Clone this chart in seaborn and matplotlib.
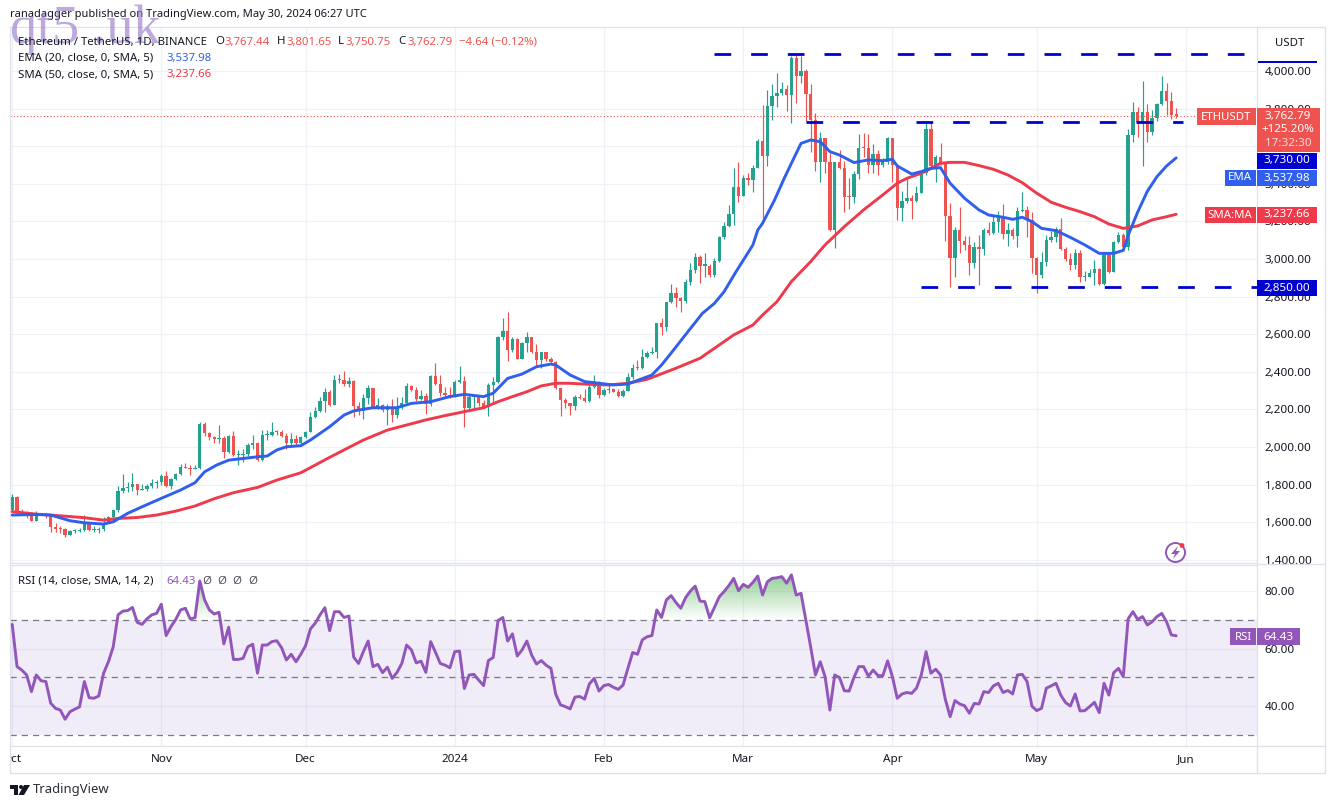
import numpy as np
import pandas as pd
import matplotlib
matplotlib.use("Agg")
import matplotlib.pyplot as plt
import seaborn as sns
from matplotlib.colors import LinearSegmentedColormap
from matplotlib.lines import Line2D
from matplotlib.patches import Circle, Polygon, Rectangle
from matplotlib.path import Path
from matplotlib.transforms import Bbox

sns.set_theme(style="white")
plt.rcParams["font.family"] = ["Noto Sans", "DejaVu Sans"]

# ==============================
# DATA (one row per day from 1 Oct 2023)
# ==============================
first_open = 1665
closes = [
    1735, 1656, 1650, 1643, 1608, 1641, 1642, 1638, 1576, 1565,
    1563, 1532, 1554, 1554, 1558, 1602, 1558, 1560, 1562, 1597,
    1629, 1663, 1766, 1782, 1789, 1803, 1771, 1774, 1794, 1806,
    1815, 1845, 1792, 1828, 1856, 1891, 1889, 1881, 1886, 2125,
    2072, 2051, 2040, 2050, 1975, 2058, 1957, 1958, 1962, 2010,
    2019, 1930, 2063, 2063, 2081, 2081, 2060, 2019, 2045, 2019,
    2052, 2082, 2161, 2192, 2245, 2291, 2224, 2356, 2356, 2335,
    2353, 2218, 2193, 2259, 2316, 2209, 2225, 2197, 2215, 2170,
    2215, 2236, 2325, 2303, 2254, 2271, 2229, 2378, 2335, 2289,
    2277, 2268, 2348, 2351, 2206, 2268, 2268, 2232, 2211, 2330,
    2347, 2587, 2617, 2516, 2575, 2468, 2551, 2587, 2507, 2463,
    2504, 2466, 2450, 2312, 2250, 2234, 2217, 2268, 2262, 2245,
    2318, 2339, 2277, 2303, 2307, 2295, 2272, 2300, 2370, 2422,
    2419, 2480, 2498, 2503, 2658, 2637, 2773, 2817, 2795, 2779,
    2880, 2942, 3012, 2965, 2965, 2915, 2991, 3115, 3175, 3240,
    3385, 3337, 3429, 3420, 3486, 3628, 3550, 3816, 3867, 3881,
    3902, 3872, 4067, 3975, 4000, 3876, 3739, 3518, 3642, 3518,
    3156, 3518, 3486, 3332, 3331, 3452, 3589, 3588, 3500, 3557,
    3500, 3518, 3642, 3500, 3273, 3309, 3326, 3310, 3350, 3456,
    3692, 3495, 3545, 3509, 3231, 3004, 3154, 3098, 3075, 2981,
    3066, 3052, 3154, 3140, 3195, 3220, 3133, 3155, 3123, 3256,
    3261, 3208, 3007, 2915, 2986, 3101, 3115, 3158, 3052, 2999,
    2968, 3034, 2903, 2906, 2928, 2945, 2867, 3027, 2933, 3089,
    3128, 3066, 3660, 3784, 3730, 3784, 3677, 3748, 3824, 3893,
    3840, 3767.44, 3762.79,
]
highs = [
    1750, 1739, 1668, 1659, 1652, 1659, 1647, 1647, 1638, 1594,
    1579, 1571, 1558, 1562, 1567, 1636, 1602, 1581, 1576, 1626,
    1633, 1665, 1794, 1856, 1815, 1863, 1801, 1803, 1803, 1828,
    1824, 1856, 1872, 1833, 1863, 1909, 1913, 1904, 1904, 2131,
    2134, 2081, 2058, 2117, 2058, 2063, 2086, 1984, 1992, 2019,
    2063, 2028, 2090, 2090, 2131, 2090, 2090, 2072, 2072, 2063,
    2060, 2087, 2188, 2215, 2268, 2312, 2303, 2381, 2388, 2404,
    2371, 2356, 2239, 2280, 2330, 2316, 2259, 2229, 2229, 2254,
    2268, 2264, 2342, 2330, 2321, 2303, 2286, 2383, 2445, 2383,
    2317, 2317, 2356, 2431, 2378, 2277, 2271, 2277, 2250, 2339,
    2371, 2590, 2684, 2716, 2583, 2578, 2560, 2610, 2587, 2546,
    2504, 2486, 2477, 2458, 2312, 2262, 2236, 2277, 2280, 2307,
    2330, 2383, 2351, 2312, 2330, 2316, 2307, 2307, 2395, 2442,
    2463, 2520, 2510, 2534, 2662, 2684, 2773, 2865, 2853, 2800,
    2892, 2981, 3030, 3022, 3030, 2973, 3004, 3122, 3199, 3287,
    3482, 3518, 3447, 3456, 3500, 3638, 3819, 3899, 3929, 3988,
    3943, 3926, 4080, 4090, 4080, 4009, 3931, 3775, 3674, 3642,
    3562, 3518, 3580, 3523, 3429, 3468, 3663, 3672, 3663, 3610,
    3580, 3536, 3651, 3642, 3505, 3364, 3435, 3341, 3389, 3460,
    3725, 3725, 3554, 3615, 3518, 3296, 3169, 3275, 3124, 3123,
    3089, 3128, 3163, 3195, 3234, 3256, 3291, 3190, 3163, 3279,
    3355, 3282, 3252, 3012, 3039, 3128, 3149, 3169, 3216, 3066,
    3034, 3052, 3048, 2938, 2947, 2995, 2950, 3034, 3034, 3098,
    3146, 3137, 3690, 3837, 3807, 3947, 3824, 3790, 3832, 3973,
    3934, 3890, 3801.65,
]
lows = [
    1661, 1650, 1643, 1624, 1604, 1604, 1638, 1620, 1549, 1549,
    1544, 1523, 1532, 1544, 1548, 1554, 1555, 1549, 1544, 1555,
    1594, 1615, 1656, 1757, 1762, 1767, 1744, 1771, 1765, 1783,
    1783, 1797, 1786, 1776, 1824, 1849, 1886, 1852, 1881, 1881,
    2058, 2037, 2019, 2019, 1939, 1966, 1952, 1904, 1922, 1952,
    1987, 1925, 1925, 2037, 2058, 2063, 2051, 1992, 2010, 2010,
    2012, 2050, 2078, 2153, 2185, 2188, 2218, 2224, 2342, 2325,
    2321, 2158, 2170, 2147, 2229, 2206, 2200, 2188, 2117, 2135,
    2156, 2202, 2229, 2300, 2247, 2250, 2176, 2218, 2330, 2271,
    2268, 2259, 2265, 2342, 2105, 2200, 2200, 2218, 2206, 2167,
    2229, 2339, 2569, 2459, 2507, 2466, 2466, 2504, 2502, 2436,
    2418, 2459, 2443, 2307, 2167, 2206, 2170, 2197, 2254, 2241,
    2238, 2312, 2262, 2273, 2286, 2290, 2268, 2268, 2300, 2362,
    2410, 2415, 2475, 2495, 2472, 2596, 2619, 2765, 2743, 2720,
    2764, 2860, 2924, 2870, 2906, 2903, 2906, 2985, 3106, 3170,
    3181, 3301, 3335, 3394, 3358, 3482, 3199, 3495, 3739, 3810,
    3872, 3789, 3722, 3828, 3935, 3734, 3571, 3470, 3411, 3456,
    3150, 3057, 3480, 3252, 3264, 3296, 3424, 3541, 3459, 3459,
    3447, 3491, 3505, 3411, 3207, 3204, 3300, 3211, 3305, 3350,
    3447, 3491, 3412, 3500, 3098, 2853, 2906, 3030, 3048, 2915,
    2951, 2862, 3020, 3128, 3131, 3146, 3105, 3071, 3105, 3066,
    3252, 3115, 2924, 2818, 2897, 2965, 3092, 3092, 3048, 2990,
    2942, 2945, 2880, 2885, 2903, 2862, 2862, 2862, 2924, 2933,
    3084, 3057, 3048, 3624, 3650, 3496, 3624, 3660, 3735, 3820,
    3766, 3743, 3750.75,
]

ema_days = [0, 5, 8, 12, 15, 19, 21, 24, 27, 31, 35, 38, 40, 42.5, 45, 48, 51, 53, 55, 57, 60, 62,
            66, 69, 71, 75, 80, 83, 87, 91, 94, 98, 100, 103, 106, 109, 112, 113, 116, 119, 122, 125,
            128, 133, 135, 137.5, 140.5, 143.5, 146, 148, 150.5, 154, 155, 156, 158.5, 160.5, 162, 164, 166, 168,
            170, 172, 175, 178, 181, 183, 184, 187, 189, 191, 193, 195, 198, 201, 203, 206, 208, 210, 212, 214,
            217, 220, 223, 226, 229, 231, 232, 234, 236, 238, 240, 242]
ema_vals = [1638, 1641, 1638, 1608, 1597, 1590, 1602, 1647, 1682, 1727, 1771, 1810, 1868, 1904, 1930, 1939, 1948, 1952, 1984, 2001, 2007, 2037,
            2108, 2170, 2192, 2209, 2209, 2232, 2241, 2268, 2280, 2268, 2286, 2365, 2388, 2427, 2441, 2436, 2383, 2348, 2339, 2330,
            2335, 2383, 2436, 2516, 2614, 2711, 2764, 2826, 2933, 3075, 3154, 3190, 3314, 3429, 3509, 3615, 3633, 3624,
            3571, 3553, 3513, 3527, 3523, 3530, 3495, 3452, 3465, 3482, 3486, 3403, 3323, 3261, 3234, 3222, 3211, 3222, 3199, 3163,
            3151, 3115, 3075, 3030, 3030, 3046, 3125, 3250, 3360, 3438, 3495, 3537.98]

sma_days = [0, 5, 10, 15, 19, 22, 26, 30, 34, 38, 42, 46, 51, 55, 60, 66, 73, 78, 82, 86,
            90, 94, 98, 101, 104, 107, 110, 113, 116, 120, 124, 128, 132, 138, 143, 146, 150, 154, 156, 159,
            162, 166, 169, 173, 177, 181, 184, 186, 189, 191, 193, 195, 198, 201, 204, 207, 210, 213, 216, 219,
            222, 225, 228, 231, 234, 237, 240, 242]
sma_vals = [1656, 1643, 1634, 1624, 1611, 1620, 1625, 1638, 1659, 1686, 1725, 1757, 1785, 1824, 1863, 1945, 2037, 2090, 2117, 2144,
            2167, 2188, 2209, 2241, 2268, 2294, 2325, 2339, 2339, 2333, 2330, 2339, 2360, 2419, 2472, 2525, 2596, 2649, 2702, 2773,
            2880, 2986, 3075, 3172, 3261, 3341, 3403, 3429, 3456, 3482, 3509, 3514, 3514, 3497, 3477, 3447, 3406, 3350, 3302, 3275,
            3252, 3225, 3186, 3163, 3176, 3208, 3225, 3237.66]

rsi_vals = [
    68.4, 53.7, 52.5, 50.8, 45.0, 50.8, 48.8, 48.5, 41.0, 39.2,
    38.6, 35.4, 38.0, 38.9, 39.7, 48.5, 42.9, 42.7, 43.5, 51.4,
    55.4, 60.6, 71.7, 73.0, 73.2, 74.3, 69.1, 68.4, 70.3, 71.7,
    72.2, 75.4, 64.5, 67.6, 70.1, 73.4, 74.0, 70.3, 70.7, 83.5,
    76.9, 73.4, 72.0, 72.6, 61.6, 67.4, 56.2, 56.2, 56.6, 60.6,
    61.5, 51.4, 61.2, 61.2, 62.4, 62.7, 60.3, 56.0, 58.0, 55.4,
    58.0, 61.0, 66.8, 68.8, 71.7, 74.2, 66.2, 72.8, 72.8, 70.8,
    71.3, 57.0, 54.8, 58.9, 62.6, 53.7, 54.5, 51.6, 53.5, 49.6,
    51.7, 54.8, 61.2, 59.5, 55.0, 55.6, 51.7, 62.4, 58.7, 54.8,
    54.2, 53.3, 58.9, 59.1, 46.1, 50.8, 51.0, 49.0, 47.1, 55.8,
    56.9, 69.7, 70.8, 62.6, 65.1, 57.4, 59.5, 62.6, 57.7, 54.6,
    55.8, 54.2, 53.1, 44.1, 40.4, 39.8, 39.0, 43.1, 43.3, 42.4,
    47.7, 49.6, 45.2, 47.1, 47.5, 46.5, 45.8, 47.3, 53.1, 58.6,
    58.0, 63.0, 64.1, 64.5, 73.4, 70.8, 76.9, 78.4, 76.0, 74.0,
    77.7, 80.0, 81.7, 76.5, 76.3, 70.7, 74.3, 78.0, 79.8, 81.9,
    84.4, 80.1, 82.3, 81.3, 83.0, 85.2, 78.6, 83.2, 84.4, 84.6,
    85.0, 82.7, 85.6, 78.6, 79.2, 70.0, 60.6, 50.8, 55.4, 50.2,
    38.6, 50.8, 49.9, 45.3, 45.2, 49.9, 53.7, 53.7, 50.4, 52.5,
    50.6, 50.5, 55.7, 50.2, 42.7, 44.2, 44.7, 44.4, 46.2, 50.8,
    58.9, 51.4, 52.8, 50.8, 42.3, 36.3, 41.9, 40.7, 40.1, 37.5,
    40.9, 40.7, 45.0, 44.7, 47.0, 47.9, 44.7, 45.4, 44.2, 50.8,
    51.0, 48.5, 40.0, 38.4, 39.2, 46.2, 47.0, 47.9, 43.8, 41.2,
    40.0, 44.2, 38.3, 38.4, 39.8, 41.3, 37.7, 47.9, 43.8, 51.6,
    53.1, 50.2, 70.3, 72.8, 70.1, 71.1, 68.2, 69.3, 71.1, 72.2,
    69.3, 64.7, 64.43,
]

price_ticks = [1400, 1600, 1800, 2000, 2200, 2400, 2600, 2800, 3000, 3200, 3400, 3600, 3800, 4000]
rsi_ticks = [40, 60, 80]
rsi_levels = [30, 50, 70]
month_days = [0, 31, 61, 92, 123, 152, 183, 213, 244]
month_labels = ["Oct", "Nov", "Dec", "2024", "Feb", "Mar", "Apr", "May", "Jun"]
resistance = 4090
middle = 3730
support = 2850
last_price = 3762.79

df = pd.DataFrame({"close": closes, "high": highs, "low": lows})
df["open"] = [first_open] + closes[:-1]
df["day"] = range(len(df))
up = df["close"] >= df["open"]

# ==============================
# LAYOUT IN PIXELS
# ==============================
W, H = 1335, 808
GREEN, RED = "#26a08f", "#ef5350"
BLUE, SMA_RED, PURPLE, DASH = "#2f5fec", "#ee3a4a", "#9256bb", "#0000d0"
GRID, BORDER, INK = "#eff1f6", "#dfe2e9", "#131722"

fig = plt.figure(figsize=(W / 100, H / 100), dpi=100, facecolor="white")


def px_axes(left, top, right, bottom):
    return fig.add_axes([left / W, 1 - bottom / H, (right - left) / W, (bottom - top) / H])


def put(x, y, s, color=INK, size=8.2, ha="left", **kw):
    fig.text(x / W, 1 - y / H, s, color=color, fontsize=size, ha=ha, va="center", zorder=12, **kw)


def box(left, top, right, bottom, color):
    fig.add_artist(Rectangle((left / W, 1 - bottom / H), (right - left) / W, (bottom - top) / H,
                             transform=fig.transFigure, color=color, lw=0, zorder=11))


ax = px_axes(10, 27, 1257, 563)
ax2 = px_axes(10, 565, 1257, 746)
xlim = (-0.46, 258.8)

# ==============================
# PRICE PANE
# ==============================
ax.vlines(df["day"], df["low"], df["high"], colors=np.where(up, GREEN, RED), lw=0.85, zorder=3)
ax.bar(df["day"], (df["close"] - df["open"]).abs().clip(lower=6), bottom=df[["open", "close"]].min(axis=1),
       width=0.7, color=np.where(up, GREEN, RED), lw=0, zorder=3)

sns.lineplot(x=sma_days, y=sma_vals, ax=ax, color=SMA_RED, lw=2.1, zorder=4)
sns.lineplot(x=ema_days, y=ema_vals, ax=ax, color=BLUE, lw=2.1, zorder=4)

ax.axhline(last_price, xmax=(1197 - 10) / 1247, color=RED, lw=0.8, ls=(0, (1, 2)), zorder=2)
dash = (0, (6, 7.2))
ax.plot([146, 258.8], [resistance, resistance], color=DASH, lw=2.0, ls=dash, zorder=5)
ax.plot([165, 243.5], [middle, middle], color=DASH, lw=2.0, ls=dash, zorder=5)
ax.plot([189, 258.8], [support, support], color=DASH, lw=2.0, ls=dash, zorder=5)

ax.set_xlim(xlim)
ax.set_ylim(1383, 4234)
ax.set_yticks(price_ticks)
ax.set_yticklabels([f"{t:,.2f}" for t in price_ticks])
ax.yaxis.tick_right()
ax.tick_params(axis="y", length=0, pad=5.5, labelsize=8.4, labelcolor=INK)
ax.set_xticks(month_days)
ax.tick_params(axis="x", length=0, labelbottom=False)
ax.grid(True, color=GRID, lw=0.9)
ax.set_axisbelow(True)
ax.set_xlabel("")
ax.set_ylabel("")

# ==============================
# RSI PANE
# ==============================
ax2.axhspan(rsi_levels[0], rsi_levels[2], color="#7e57c2", alpha=0.11, lw=0, zorder=1)
for level in rsi_levels:
    ax2.axhline(level, color="#787b86", lw=0.9, ls=(0, (5, 4)), zorder=2)

rsi = np.array(rsi_vals)
days = np.arange(len(rsi))
over = ax2.fill_between(days, 70, rsi, where=rsi > 70, interpolate=True, color="none")
green_fade = LinearSegmentedColormap.from_list("fade", [(0.30, 0.69, 0.31, 0.0), (0.30, 0.69, 0.31, 0.62)])
grad = ax2.imshow(np.linspace(1, 0, 64).reshape(-1, 1), extent=(0, 243, 70, 86), aspect="auto",
                  cmap=green_fade, zorder=2)
grad.set_clip_path(Path.make_compound_path(*over.get_paths()), transform=ax2.transData)
sns.lineplot(x=days, y=rsi, ax=ax2, color=PURPLE, lw=2.1, zorder=4)

ax2.set_xlim(xlim)
ax2.set_ylim(26.1, 89.04)
ax2.set_yticks(rsi_ticks)
ax2.set_yticklabels([f"{t:.2f}" for t in rsi_ticks])
ax2.yaxis.tick_right()
ax2.tick_params(axis="y", length=0, pad=5.5, labelsize=8.4, labelcolor=INK)
ax2.set_xticks(month_days)
ax2.set_xticklabels(month_labels)
ax2.tick_params(axis="x", length=0, pad=6, labelsize=8.4, labelcolor=INK)
ax2.grid(True, color=GRID, lw=0.9)
ax2.set_axisbelow(True)
ax2.set_xlabel("")
ax2.set_ylabel("")
for lab in ax2.get_xticklabels():
    if lab.get_text() == "2024":
        lab.set_fontweight("bold")
    # Oct sits on the left edge, its first letter is cut off there
    lab.set_clip_box(Bbox([[10, 0], [W, H]]))
    lab.set_clip_on(True)

for a in (ax, ax2):
    for side in a.spines:
        a.spines[side].set_color(BORDER)
        a.spines[side].set_linewidth(0.9)

# outer frame
for x0, y0, x1, y1 in [(1257, 746, 1257, 773), (10, 773, 1325, 773), (1257, 27, 1325, 27),
                       (1257, 564, 1325, 564), (1257, 746, 1325, 746), (1325, 27, 1325, 773), (10, 746, 10, 773)]:
    fig.add_artist(Line2D([x0 / W, x1 / W], [1 - y0 / H, 1 - y1 / H], color=BORDER, lw=1, zorder=1))

# ==============================
# TEXT AND LABELS
# ==============================
put(10, 15, "ranadagger published on TradingView.com, May 30, 2024 06:27 UTC", size=8.0)
put(10, 30, "qt5 .uk", color="#9a7cc8", size=39, family="Liberation Serif", alpha=0.65)

put(18, 42, "Ethereum / TetherUS, 1D, BINANCE")
for x, s, col in [(215, "O", INK), (224, "3,767.44", RED), (277, "H", INK), (286, "3,801.65", RED),
                  (338, "L", INK), (345, "3,750.75", RED), (398, "C", INK), (407, "3,762.79", RED),
                  (459, "−4.64 (−0.12%)", RED)]:
    put(x, 42, s, color=col)
put(18, 58, "EMA (20, close, 0, SMA, 5)")
put(166, 58, "3,537.98", color=BLUE)
put(18, 75, "SMA (50, close, 0, SMA, 5)")
put(166, 75, "3,237.66", color=SMA_RED)
put(18, 581, "RSI (14, close, SMA, 14, 2)")
put(166, 581, "64.43", color=PURPLE)
for x in (207, 222, 237, 253):
    put(x, 581, "Ø", color="#50535e", ha="center")

# right hand price labels
box(1258, 61, 1317, 63, DASH)
box(1261, 33, 1320, 56, "white")
put(1290, 44, "USDT", ha="center")
box(1197, 108, 1256, 125, RED)
put(1226, 117, "ETHUSDT", color="white", ha="center")
box(1257, 108, 1320, 152, RED)
put(1288, 116, "3,762.79", color="white", ha="center", size=8.4)
put(1288, 130, "+125.20%", color="white", ha="center", size=8.4)
put(1288, 144, "17:32:30", color="#ffd6d4", ha="center", size=8.4)
box(1257, 153, 1317, 169, DASH)
put(1287, 161, "3,730.00", color="white", ha="center", size=8.4)
box(1225, 170, 1256, 186, BLUE)
put(1240, 178, "EMA", color="white", ha="center")
box(1257, 170, 1317, 186, BLUE)
put(1287, 178, "3,537.98", color="white", ha="center", size=8.4)
box(1205, 207, 1256, 223, SMA_RED)
put(1230, 215, "SMA:MA", color="white", ha="center")
box(1257, 207, 1317, 223, SMA_RED)
put(1287, 215, "3,237.66", color="white", ha="center", size=8.4)
box(1257, 280, 1317, 296, DASH)
put(1287, 288, "2,850.00", color="white", ha="center", size=8.4)
box(1230, 628, 1256, 645, PURPLE)
put(1243, 637, "RSI", color="white", ha="center")
box(1257, 628, 1300, 645, PURPLE)
put(1278, 637, "64.43", color="white", ha="center", size=8.4)

# lightning badge
overlay = fig.add_axes([0, 0, 1, 1], facecolor="none", zorder=11)
overlay.set_xlim(0, W)
overlay.set_ylim(H, 0)
overlay.axis("off")
overlay.add_patch(Circle((1175.5, 552.5), 9.5, fill=False, ec=PURPLE, lw=1.4))
overlay.add_patch(Polygon([(1178, 546), (1171, 554), (1175, 554), (1173, 559), (1180, 551), (1176, 551)],
                          color=PURPLE, lw=0))
overlay.add_patch(Circle((1182, 545.5), 2.4, color="#f23645", lw=0))

# TradingView logo
overlay.add_patch(Polygon([(10, 785), (18, 785), (18, 795), (14, 795), (14, 789), (10, 789)], color=INK, lw=0))
overlay.add_patch(Circle((21, 787), 2, color=INK, lw=0))
overlay.add_patch(Polygon([(24, 785), (30, 785), (24, 795), (18.5, 795)], color=INK, lw=0))
put(33, 790, "TradingView", size=9.4, color="#2a2e39")

fig.savefig("out.png", dpi=100, facecolor="white")
